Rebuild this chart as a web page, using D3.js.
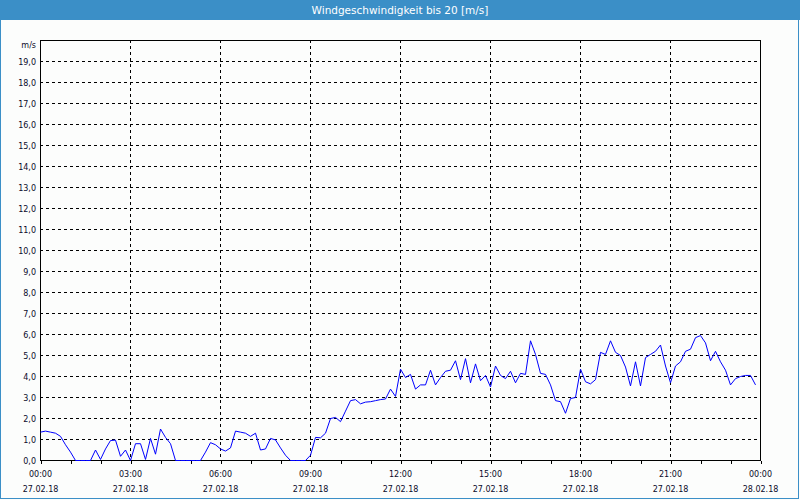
<!DOCTYPE html>
<html>
<head>
<meta charset="utf-8">
<script src="https://cdn.jsdelivr.net/npm/d3@7"></script>
<style>
  html, body { margin: 0; padding: 0; background: #ffffff; }
  svg { display: block; }
</style>
</head>
<body>
<svg id="chart" width="800" height="500"></svg>
<script>
// ---- data ----
const chartTitle = "Windgeschwindigkeit bis 20 [m/s]";
const unitLabel = "m/s";
const startTime = "2018-02-27T00:00:00";
const endTime = "2018-02-28T00:00:00";
const stepMinutes = 10;
const yTickValues = [0,1,2,3,4,5,6,7,8,9,10,11,12,13,14,15,16,17,18,19];
const speed = [
  1.35,1.4,1.35,1.3,1.15,0.75,0.4,0,0,0,
  0,0.5,0.05,0.55,0.95,0.97,0.2,0.5,0,0.8,
  0.8,0.05,1.05,0.3,1.5,1.1,0.8,0,0,0,
  0,0,0,0.4,0.85,0.75,0.55,0.45,0.6,1.4,
  1.35,1.3,1.15,1.3,0.5,0.55,1.05,0.98,0.6,0.25,
  0,0,0,0,0.25,1.1,1.08,1.3,2.0,2.05,
  1.85,2.35,2.85,2.9,2.7,2.78,2.8,2.85,2.9,2.93,
  3.4,3.05,4.35,3.95,4.1,3.4,3.6,3.6,4.3,3.6,
  3.95,4.25,4.3,4.75,3.85,4.85,3.7,4.6,3.8,4.05,
  3.5,4.5,4.05,3.9,4.25,3.7,4.15,4.1,5.7,5.05,
  4.15,4.1,3.6,2.85,2.8,2.25,2.95,3.0,4.35,3.75,
  3.65,3.85,5.15,5.05,5.7,5.15,5.0,4.45,3.55,4.7,
  3.55,4.9,5.05,5.2,5.5,4.5,3.7,4.5,4.7,5.2,
  5.3,5.85,5.95,5.6,4.75,5.2,4.7,4.3,3.6,3.9,
  4.0,4.05,4.05,3.6
];

// ---- layout ----
const W = 800, H = 500;
const plot = { left: 40, right: 760, top: 40, bottom: 460 };
const font = "'DejaVu Sans', Verdana, sans-serif";
const textColor = "#0b0b2a";

const svg = d3.select("#chart");
const start = new Date(startTime), end = new Date(endTime);
const data = speed.map((v, i) => ({ t: d3.timeMinute.offset(start, i * stepMinutes), v }));

const x = d3.scaleTime().domain([start, end]).range([plot.left, plot.right]);
const y = d3.scaleLinear().domain([0, 20]).range([plot.bottom, plot.top]);

// background + frame
svg.append("rect").attr("x", 0).attr("y", 0).attr("width", W).attr("height", H).attr("fill", "#fcfdfc");
svg.append("rect").attr("x", 0.5).attr("y", 0.5).attr("width", W - 2).attr("height", H - 2)
  .attr("fill", "none").attr("stroke", "#3b8fc7").attr("stroke-width", 1);
svg.append("rect").attr("x", 0).attr("y", 0).attr("width", W).attr("height", 20).attr("fill", "#3b8fc7");
svg.append("text").attr("x", W / 2).attr("y", 14).attr("text-anchor", "middle")
  .attr("fill", "#ffffff").attr("font-family", font).attr("font-size", "10.5px")
  .text(chartTitle);

// horizontal grid
svg.append("g").selectAll("line").data(yTickValues.filter(d => d > 0)).join("line")
  .attr("x1", plot.left).attr("x2", plot.right)
  .attr("y1", d => Math.round(y(d)) + 0.5).attr("y2", d => Math.round(y(d)) + 0.5)
  .attr("stroke", "#000").attr("stroke-dasharray", "3,3").attr("shape-rendering", "crispEdges");

// vertical grid every 3 hours
const gridTimes = d3.timeHour.every(3).range(start, end).filter(d => +d > +start);
svg.append("g").selectAll("line").data(gridTimes).join("line")
  .attr("x1", d => Math.round(x(d)) + 0.5).attr("x2", d => Math.round(x(d)) + 0.5)
  .attr("y1", plot.top).attr("y2", plot.bottom)
  .attr("stroke", "#000").attr("stroke-dasharray", "3,3").attr("shape-rendering", "crispEdges");

// plot border
svg.append("rect").attr("x", plot.left + 0.5).attr("y", plot.top + 0.5)
  .attr("width", plot.right - plot.left).attr("height", plot.bottom - plot.top)
  .attr("fill", "none").attr("stroke", "#000").attr("shape-rendering", "crispEdges");

// x axis: hourly ticks, labels every 3 h
const xAxis = d3.axisBottom(x).ticks(d3.timeHour.every(1)).tickSize(3).tickFormat("");
const gx = svg.append("g").attr("transform", `translate(0.5,${plot.bottom + 0.5})`).call(xAxis);
gx.select(".domain").remove();
gx.selectAll("line").attr("stroke", "#000").attr("shape-rendering", "crispEdges");

const labelTimes = d3.timeHour.every(3).range(start, d3.timeMinute.offset(end, 1));
const fmtTime = d3.timeFormat("%H:%M"), fmtDate = d3.timeFormat("%d.%m.%y");
const xl = svg.append("g").attr("font-family", font).attr("font-size", "8px").attr("fill", textColor)
  .attr("text-anchor", "middle");
xl.selectAll("text.t").data(labelTimes).join("text").attr("class", "t")
  .attr("x", d => x(d) + 0.5).attr("y", 477).text(fmtTime);
xl.selectAll("text.d").data(labelTimes).join("text").attr("class", "d")
  .attr("x", d => x(d) + 0.5).attr("y", 492).text(fmtDate);

// y axis labels
const fmtY = v => d3.format(".1f")(v).replace(".", ",");
const yAxis = d3.axisLeft(y).tickValues(yTickValues).tickSize(0).tickPadding(4).tickFormat(fmtY);
const gy = svg.append("g").attr("transform", `translate(${plot.left},0.5)`).call(yAxis);
gy.select(".domain").remove();
gy.selectAll("text").attr("font-family", font).attr("font-size", "8px").attr("fill", textColor);
svg.append("text").attr("x", 36).attr("y", 48).attr("text-anchor", "end")
  .attr("font-family", font).attr("font-size", "8px").attr("fill", textColor).text(unitLabel);

// data line
const line = d3.line().x(d => x(d.t) + 0.5).y(d => y(d.v) + 0.5);
svg.append("path").datum(data).attr("d", line)
  .attr("fill", "none").attr("stroke", "#0000ff").attr("stroke-width", 1);
</script>
</body>
</html>
